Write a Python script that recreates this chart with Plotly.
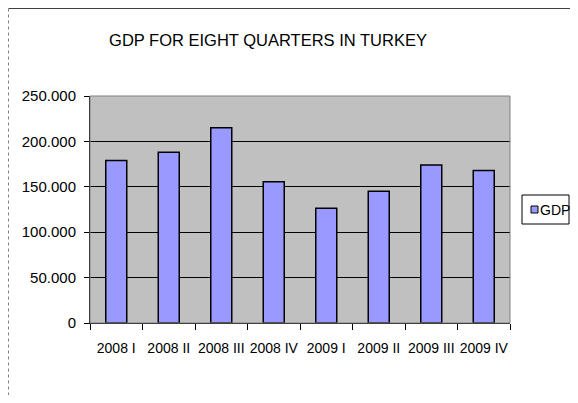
import plotly.graph_objects as go

quarters = ["2008 I", "2008 II", "2008 III", "2008 IV", "2009 I", "2009 II", "2009 III", "2009 IV"]
gdp = [179000, 188000, 215000, 155500, 126500, 145000, 174000, 168000]
y_ticks = [0, 50000, 100000, 150000, 200000, 250000]

# figure is offset by the page's 8px body margin
W, H = 562, 387
L, R, T, B = 82, 502, 88, 315

def px(X):
    return (X - L) / (R - L)

def py(Y):
    return (B - Y) / (B - T)

fig = go.Figure()
fig.add_trace(go.Bar(
    x=quarters, y=gdp, name="GDP", width=0.4,
    marker=dict(color="#9999ff", line=dict(color="black", width=1.5)),
    showlegend=False,
))

fig.update_layout(
    width=W, height=H,
    margin=dict(l=L, r=W - R, t=T, b=H - B, autoexpand=False),
    paper_bgcolor="white", plot_bgcolor="#c0c0c0",
    font=dict(family="Liberation Sans, Arial, sans-serif", color="black", size=15),
    separators=",.",
    title=dict(text="GDP FOR EIGHT QUARTERS IN TURKEY", x=260 / W, xanchor="center",
               y=1 - 32 / H, yanchor="middle", font=dict(size=16.5, color="black")),
    showlegend=False,
    xaxis=dict(showline=True, linecolor="black", linewidth=1, ticks="outside",
               tickson="boundaries", ticklen=6, tickcolor="black", tickangle=0,
               ticklabelstandoff=12,
               showgrid=False, tickfont=dict(size=14)),
    yaxis=dict(range=[0, 250000], tickvals=y_ticks, tickformat=",d",
               showline=True, linecolor="black", linewidth=1, ticks="outside",
               ticklen=5, tickcolor="black", showgrid=True, gridcolor="black",
               gridwidth=1, zeroline=False, tickfont=dict(size=15),
               ticklabelstandoff=5),
    shapes=[
        dict(type="rect", xref="paper", yref="paper", x0=0, x1=1, y0=0, y1=1,
             line=dict(color="#808080", width=1), fillcolor="rgba(0,0,0,0)", layer="above"),
        dict(type="line", xref="paper", yref="paper", x0=px(0.5), x1=px(W), y0=py(0.5), y1=py(0.5),
             line=dict(color="#404040", width=1)),
        dict(type="line", xref="paper", yref="paper", x0=px(0.5), x1=px(0.5), y0=py(0.5), y1=py(H),
             line=dict(color="#808080", width=1, dash="dot")),
        # legend box
        dict(type="rect", xref="paper", yref="paper", x0=px(514), x1=px(561), y0=py(216), y1=py(187),
             line=dict(color="black", width=1), fillcolor="white"),
        dict(type="rect", xref="paper", yref="paper", x0=px(523), x1=px(530), y0=py(205), y1=py(198),
             line=dict(color="black", width=1), fillcolor="#9999ff"),
    ],
    annotations=[
        dict(text="GDP", xref="paper", yref="paper", x=px(530), y=py(202), xanchor="left",
             yanchor="middle", showarrow=False, font=dict(size=14, color="black")),
    ],
)

fig.write_html("out.html")
